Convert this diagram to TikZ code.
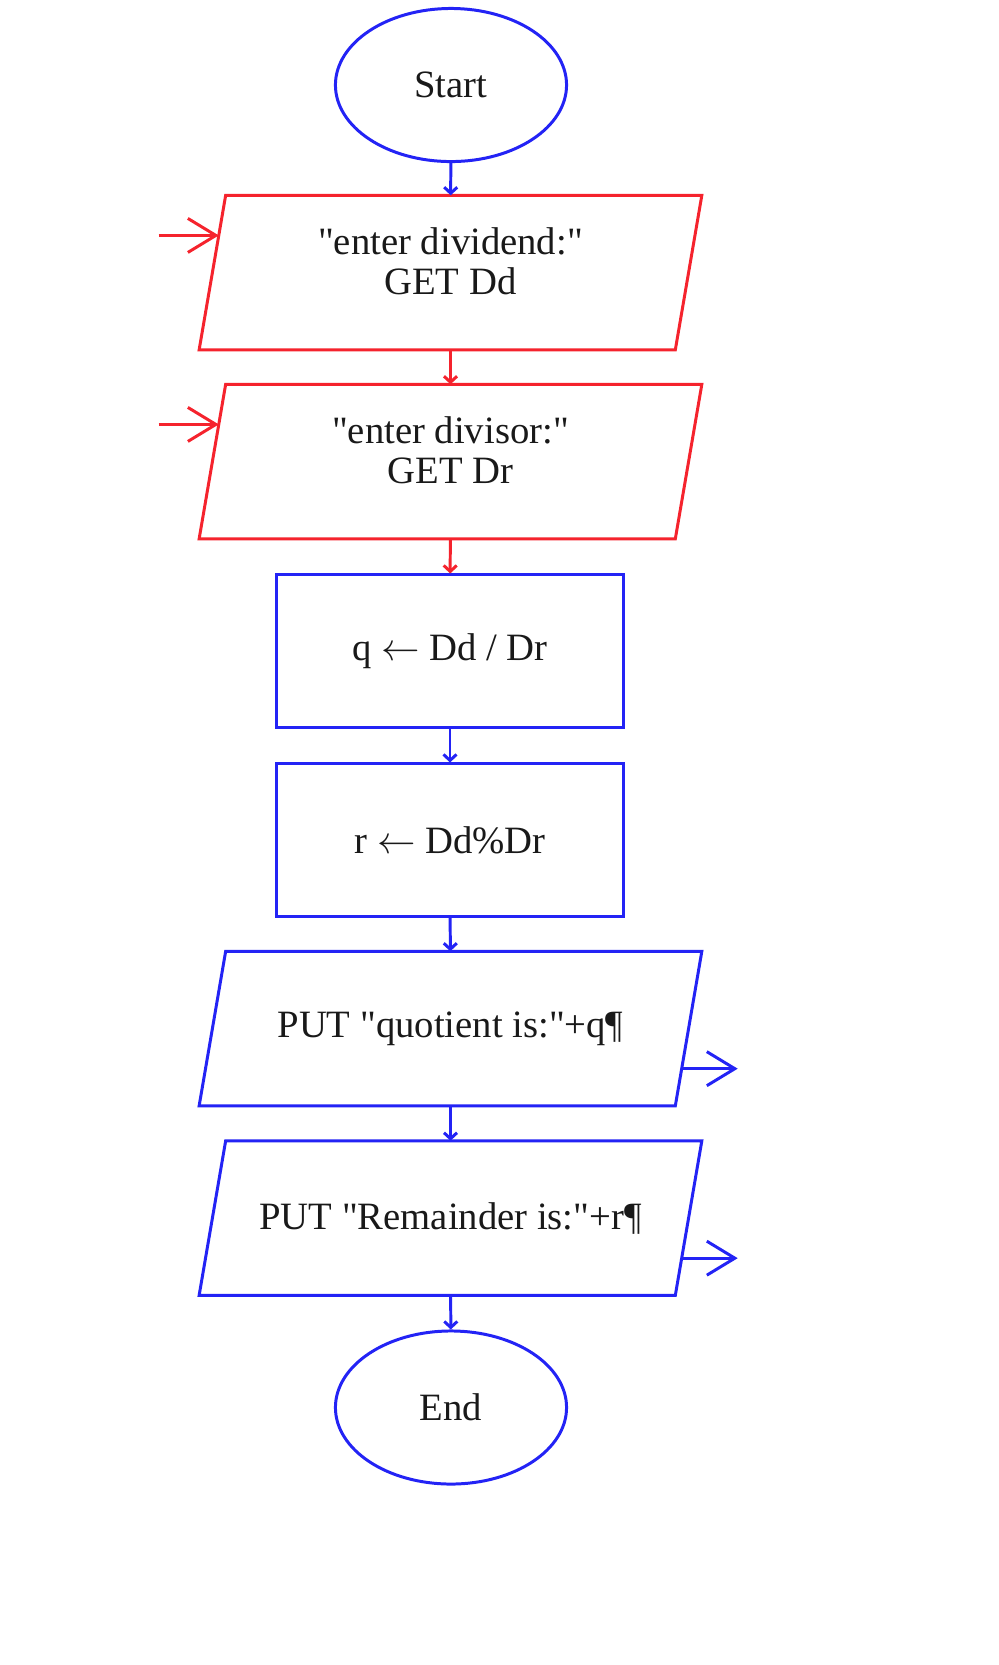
\documentclass[tikz,border=0pt]{standalone}
\usepackage{fontspec}
\newfontfamily\flowfont{Liberation Serif}
\usetikzlibrary{shapes.geometric,arrows.meta,calc}

\definecolor{flowblue}{RGB}{35,35,245}
\definecolor{flowred}{RGB}{245,35,45}

% two lines of text, drawn a little above the middle of the box
\newcommand{\twolines}[2]{\raisebox{0.06cm}[\height][\depth]{\begin{tabular}{@{}c@{}}#1\\#2\end{tabular}}}

\begin{document}
\begin{tikzpicture}[x=0.01cm, y=-0.01cm,
        every node/.style={font=\flowfont\fontsize{11}{11.3}\selectfont, text=black!90},
        term/.style={draw=flowblue, line width=0.85pt, ellipse, minimum width=2.31cm, minimum height=1.53cm, inner sep=0pt},
        iobox/.style={rectangle, minimum width=5.01cm, minimum height=1.53cm, inner sep=0pt},
        procbox/.style={draw=flowblue, line width=0.85pt, rectangle, minimum width=3.46cm, minimum height=1.52cm, inner sep=0pt},
        flow/.style={draw=#1, line width=0.85pt, -{Straight Barb[length=0.06cm, width=0.13cm]}},
        iolink/.style={draw=#1, line width=0.85pt, -{Straight Barb[length=0.28cm, width=0.34cm]}}]
                \useasboundingbox (0,0) rectangle (999,1665);
%
                \node [term] (start) at (451,85) {Start};
                \node [iobox] (getdd) at (450.5,272.5) {\twolines{"enter dividend:"}{GET Dd}};
                \node [iobox] (getdr) at (450.5,461.5) {\twolines{"enter divisor:"}{GET Dr}};
                \node [procbox] (quot) at (450,651) {q $\leftarrow$ Dd / Dr};
                \node [procbox] (rem) at (450,840) {r $\leftarrow$ Dd\%Dr};
                \node [iobox] (putq) at (450.5,1028.5) {PUT "quotient is:"+q¶};
                \node [iobox] (putr) at (450.5,1218) {PUT "Remainder is:"+r¶};
                \node [term] (stop) at (451,1407.5) {End};
%
                \foreach \n/\c in {getdd/flowred, getdr/flowred, putq/flowblue, putr/flowblue}
                    \draw [\c, line width=0.85pt] ([xshift=0.265cm]\n.north west) -- (\n.north east)
                        -- ([xshift=-0.265cm]\n.south east) -- (\n.south west) -- cycle;
%
                \draw [flow=flowblue] (start) -- (getdd);
                \draw [flow=flowred] (getdd) -- (getdr);
                \draw [flow=flowred] (getdr) -- (quot);
                \draw [flow=flowblue] (quot) -- (rem);
                \draw [flow=flowblue] (rem) -- (putq);
                \draw [flow=flowblue] (putq) -- (putr);
                \draw [flow=flowblue] (putr) -- (stop);
%
                \coordinate (getdd in) at ($(getdd.south west)!0.74!([xshift=0.265cm]getdd.north west)$);
                \coordinate (getdr in) at ($(getdr.south west)!0.74!([xshift=0.265cm]getdr.north west)$);
                \coordinate (putq out) at ($([xshift=-0.265cm]putq.south east)!0.24!(putq.north east)$);
                \coordinate (putr out) at ($([xshift=-0.265cm]putr.south east)!0.24!(putr.north east)$);
                \coordinate (in1) at ([xshift=-0.6cm]getdd in);
                \coordinate (in2) at ([xshift=-0.6cm]getdr in);
                \coordinate (out1) at ([xshift=0.56cm]putq out);
                \coordinate (out2) at ([xshift=0.56cm]putr out);
                \draw [iolink=flowred] (in1) -- (getdd in);
                \draw [iolink=flowred] (in2) -- (getdr in);
                \draw [iolink=flowblue] (putq out) -- (out1);
                \draw [iolink=flowblue] (putr out) -- (out2);
\end{tikzpicture}
\end{document}
